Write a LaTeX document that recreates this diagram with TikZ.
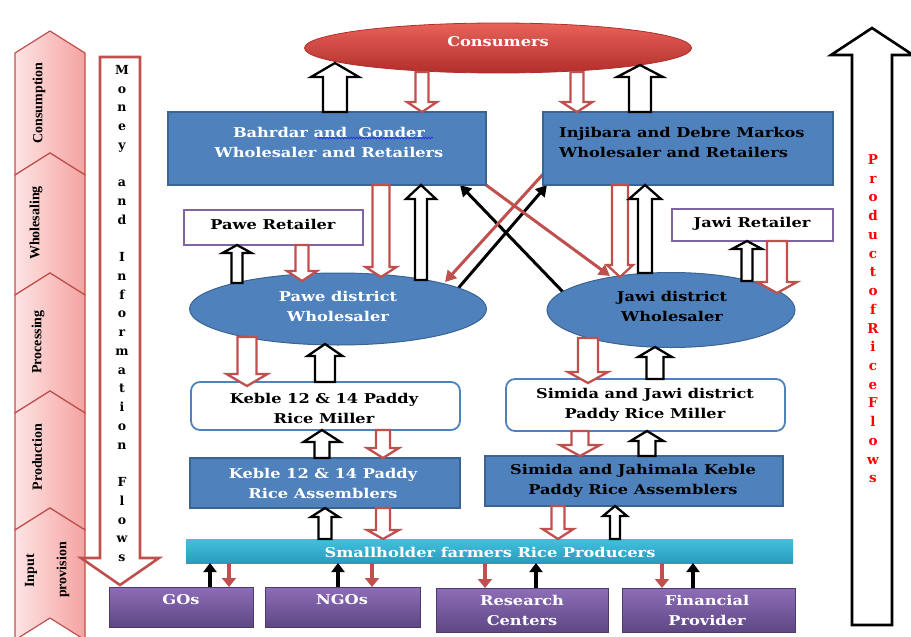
\documentclass[tikz,border=0pt]{standalone}
\usepackage{fontspec}
\setmainfont{DejaVu Serif}
\newfontfamily\boxfont[FakeStretch=1.2]{DejaVu Serif}
\newfontfamily\stagefont{Liberation Serif}
\usetikzlibrary{shapes.geometric,arrows.meta,backgrounds,calc,decorations.pathmorphing}

\definecolor{accblue}{HTML}{4F81BD}
\definecolor{accblueD}{HTML}{3A6491}
\definecolor{accred}{HTML}{C0504D}
\definecolor{accpurple}{HTML}{8064A2}
\definecolor{stageL}{HTML}{FDE4E4}
\definecolor{stageR}{HTML}{F5A3A1}
\definecolor{consT}{HTML}{E8625A}
\definecolor{consB}{HTML}{B22E2A}
\definecolor{farmT}{HTML}{43C0DC}
\definecolor{farmB}{HTML}{2A9BBF}
\definecolor{purT}{HTML}{8E6DB8}
\definecolor{purB}{HTML}{5E4784}
\definecolor{purD}{HTML}{4D3A6C}
\definecolor{squig}{HTML}{2233DD}

\tikzset{
  lbl/.style={font=\boxfont\bfseries\fontsize{13.5}{20}\selectfont, align=center, inner sep=0pt},
  wlbl/.style={lbl, text=white},
  stagebox/.style={draw=accred, line width=1.2pt, left color=stageL, right color=stageR},
  stagelbl/.style={rotate=90, font=\stagefont\bfseries\fontsize{14}{16}\selectfont, inner sep=0pt},
  vlet/.style={anchor=base, inner sep=0pt, font=\bfseries\fontsize{12.5}{14}\selectfont},
  rlet/.style={vlet, text=red, font=\bfseries\fontsize{13.5}{14}\selectfont},
  moneyarrow/.style={draw=accred, line width=2.6pt, fill=white, line join=miter},
  prodarrow/.style={draw=black, line width=2.6pt, fill=white, line join=miter},
  shape0/.style={inner sep=0pt, outer sep=0pt},
  bluebox/.style={shape0, rectangle, draw=accblueD, line width=1.2pt, fill=accblue},
  millbox/.style={shape0, rectangle, draw=accblue, line width=1.8pt, fill=white, rounded corners=9pt},
  retbox/.style={shape0, rectangle, draw=accpurple, line width=1.5pt, fill=white},
  distell/.style={shape0, ellipse, draw=accblueD, line width=1pt, fill=accblue},
  consell/.style={shape0, ellipse, draw=consB, line width=0.8pt, top color=consT, bottom color=consB},
  farmbar/.style={shape0, rectangle, top color=farmT, bottom color=farmB},
  inbox/.style={shape0, rectangle, draw=purD, line width=0.8pt, top color=purT, bottom color=purB},
  upflow/.style={draw=black, line width=2.3pt, fill=white, line join=miter},
  downflow/.style={draw=accred, line width=2.3pt, fill=white, line join=miter},
  thinblk/.style={draw=black, line width=3.5pt, -{Triangle[length=9pt,width=13pt]}},
  thinred/.style={draw=accred, line width=3.5pt, -{Triangle[length=9pt,width=14pt]}},
  diagblk/.style={draw=black, line width=3pt, -{Triangle[length=11pt,width=12pt]}},
  diagred/.style={draw=accred, line width=3pt, -{Triangle[length=11pt,width=12pt]}},
  spellcheck/.style={draw=squig, line width=0.7pt, decorate,
    decoration={snake, amplitude=0.9pt, segment length=3pt}}
}

% hollow block arrows: tail, tip, half shaft width, half head width, head length
\newcommand\uparr[5]{%
  \draw[upflow] let \p1=(#1), \p2=(#2) in
    (\x1-#3pt,\y1) -- (\x1-#3pt,\y2-#5pt) -- (\x1-#4pt,\y2-#5pt) -- (\x1,\y2)
    -- (\x1+#4pt,\y2-#5pt) -- (\x1+#3pt,\y2-#5pt) -- (\x1+#3pt,\y1) -- cycle;}
\newcommand\downarr[5]{%
  \draw[downflow] let \p1=(#1), \p2=(#2) in
    (\x1-#3pt,\y1) -- (\x1-#3pt,\y2+#5pt) -- (\x1-#4pt,\y2+#5pt) -- (\x1,\y2)
    -- (\x1+#4pt,\y2+#5pt) -- (\x1+#3pt,\y2+#5pt) -- (\x1+#3pt,\y1) -- cycle;}

\begin{document}
\begin{tikzpicture}[x=1pt,y=-1pt]
\useasboundingbox (0,0) rectangle (911,637);

% ---------- stage band ----------
\foreach \ys/\ye in {53/175,175/295,295/413,413/530,530/640}
  \draw[stagebox] (15,\ys) -- (50,\ys-22) -- (85,\ys) -- (85,\ye) -- (50,\ye-22) -- (15,\ye) -- cycle;
\node[stagelbl] (st-cons) at (39,103) {Consumption};
\node[stagelbl] (st-whole) at (36,223) {Wholesaling};
\node[stagelbl] (st-proc) at (38,342) {Processing};
\node[stagelbl] (st-prod) at (37,457) {Production};
\node[stagelbl] (st-inp1) at (31,571) {Input};
\node[stagelbl] (st-inp2) at (63,570) {provision};

% ---------- money and information flow (downwards) ----------
\draw[moneyarrow] (100,57) -- (140,57) -- (140,558) -- (159,558) -- (120,585) -- (81,558) -- (100,558) -- cycle;
\foreach \c [count=\i] in {M,o,n,e,y,{},a,n,d,{},I,n,f,o,r,m,a,t,i,o,n,{},F,l,o,w,s}
  \node[vlet] (money-\i) at (122,74.5+\i*18.73-18.73) {\c};

% ---------- product flow (upwards) ----------
\draw[prodarrow] (852,625) -- (852,55) -- (831,55) -- (872,28) -- (913,55) -- (892,55) -- (892,625) -- cycle;
\foreach \c [count=\i] in {P,r,o,d,u,c,t,o,f,R,i,c,e,F,l,o,w,s}
  \node[rlet] (prod-\i) at (873,164.5+\i*18.73-18.73) {\c};

% ---------- actors ----------
\node[consell, minimum width=387pt, minimum height=50pt] (consumers) at (498,48) {};
\node[wlbl] (consumers-t) at (498,42) {Consumers};

\node[bluebox, minimum width=318pt, minimum height=73pt] (bahrdar) at (327,148.5) {};
\node[wlbl] (bahrdar-t) at (329,142) {Bahrdar and~ Gonder\\Wholesaler and Retailers};

\node[bluebox, minimum width=290pt, minimum height=73pt] (injibara) at (688,148.5) {};
\node[lbl, anchor=west, align=left] (injibara-t) at (559,142) {Injibara and Debre Markos\\Wholesaler and Retailers};

\node[retbox, minimum width=179pt, minimum height=35pt] (paweret) at (273.5,227.5) {};
\node[lbl] (paweret-t) at (273,224) {Pawe Retailer};
\node[retbox, minimum width=161pt, minimum height=32pt] (jawiret) at (752.5,225) {};
\node[lbl] (jawiret-t) at (752,224) {Jawi Retailer};

\node[distell, minimum width=297pt, minimum height=72pt] (pawedist) at (338,309) {};
\node[wlbl] (pawedist-t) at (338,306) {Pawe district\\Wholesaler};
\node[distell, minimum width=248pt, minimum height=75pt] (jawidist) at (671,310) {};
\node[lbl] (jawidist-t) at (672,306) {Jawi district\\Wholesaler};

\node[millbox, minimum width=269pt, minimum height=48pt] (kmill) at (325.5,406) {};
\node[lbl] (kmill-t) at (324,408) {Keble 12 \& 14 Paddy\\Rice Miller};
\node[millbox, minimum width=279pt, minimum height=52pt] (smill) at (645.5,405) {};
\node[lbl] (smill-t) at (645,405) {Simida and Jawi district\\Paddy Rice Miller};

\node[bluebox, minimum width=270pt, minimum height=50pt] (kasm) at (325,483) {};
\node[wlbl] (kasm-t) at (323,483) {Keble 12 \& 14 Paddy\\Rice Assemblers};
\node[bluebox, minimum width=298pt, minimum height=50pt] (sasm) at (634,481) {};
\node[lbl] (sasm-t) at (633,481) {Simida and Jahimala Keble\\Paddy Rice Assemblers};

\node[farmbar, minimum width=607pt, minimum height=24pt] (farmers) at (489.5,551) {};
\node[wlbl] (farmers-t) at (490,552) {Smallholder farmers Rice Producers};

\node[inbox, minimum width=144pt, minimum height=40pt] (gos) at (181,607) {};
\node[wlbl] (gos-t) at (181,600) {GOs};
\node[inbox, minimum width=155pt, minimum height=40pt] (ngos) at (342.5,607) {};
\node[wlbl] (ngos-t) at (342,600) {NGOs};
\node[inbox, minimum width=172pt, minimum height=44pt] (research) at (522,610) {};
\node[wlbl] (research-t) at (522,610) {Research\\Centers};
\node[inbox, minimum width=173pt, minimum height=44pt] (finance) at (708.5,610) {};
\node[wlbl] (finance-t) at (707,610) {Financial\\Provider};

\draw[spellcheck] (317,138) -- (433,138);

% ---------- crossing flows between the two chains ----------
\begin{scope}[on background layer]
  \draw[diagblk] (455,292) -- ($(injibara.south west)+(4,0)$);
  \draw[diagblk] (563,292) -- ($(bahrdar.south east)+(-26,0)$);
  \draw[diagred] ($(injibara.south west)+(2,-13)$) -- (445,282);
  \draw[diagred] (bahrdar.south east) -- (610,276);
\end{scope}

% ---------- block arrows: product up (black), money down (red) ----------
\uparr{335,0 |- bahrdar.north}{335,63}{12}{24}{14}
\downarr{422,72}{422,0 |- bahrdar.north}{6.5}{15}{10}
\downarr{577,72}{577,0 |- injibara.north}{6.5}{15.5}{10}
\uparr{640,0 |- injibara.north}{640,65}{11}{23}{12}

\downarr{381,0 |- bahrdar.south}{381,277}{8.5}{15.5}{10}
\uparr{421,280}{421,0 |- bahrdar.south}{6}{15}{14}
\downarr{620,0 |- injibara.south}{620,277}{8}{13}{12}
\uparr{645,273}{645,0 |- injibara.south}{7}{16}{14}

\uparr{237,283}{237,0 |- paweret.south}{5.5}{14.5}{8}
\downarr{302,0 |- paweret.south}{302,281}{6.5}{15}{10}
\uparr{747,281}{747,0 |- jawiret.south}{5.5}{15}{8}
\downarr{777,0 |- jawiret.south}{777,293}{10}{20}{11}

\downarr{247,337}{247,386}{9.5}{20.5}{12}
\uparr{325,0 |- kmill.north}{325,344}{10}{17.5}{12}
\downarr{588,338}{588,383}{10}{20}{11}
\uparr{655,0 |- smill.north}{655,347}{8.5}{17}{10}

\uparr{322,0 |- kasm.north}{322,0 |- kmill.south}{7.5}{18.5}{12}
\downarr{383,0 |- kmill.south}{383,0 |- kasm.north}{7}{16}{10}
\downarr{580,0 |- smill.south}{580,0 |- sasm.north}{8.5}{20}{11}
\uparr{647,0 |- sasm.north}{647,0 |- smill.south}{8.5}{16.5}{10}

\uparr{325,0 |- farmers.north}{325,0 |- kasm.south}{6.5}{14}{9}
\downarr{383,0 |- kasm.south}{383,0 |- farmers.north}{7}{16}{9}
\downarr{558,0 |- sasm.south}{558,0 |- farmers.north}{6.5}{15.5}{10}
\uparr{615,0 |- farmers.north}{615,0 |- sasm.south}{5}{12}{10}

% ---------- inputs to and from the producers ----------
\draw[thinblk] (210,0 |- gos.north) -- (210,0 |- farmers.south);
\draw[thinred] (229,0 |- farmers.south) -- (229,0 |- gos.north);
\draw[thinblk] (338,0 |- ngos.north) -- (338,0 |- farmers.south);
\draw[thinred] (372,0 |- farmers.south) -- (372,0 |- ngos.north);
\draw[thinred] (485,0 |- farmers.south) -- (485,0 |- research.north);
\draw[thinblk] (536,0 |- research.north) -- (536,0 |- farmers.south);
\draw[thinred] (662,0 |- farmers.south) -- (662,0 |- finance.north);
\draw[thinblk] (693,0 |- finance.north) -- (693,0 |- farmers.south);
\end{tikzpicture}
\end{document}
